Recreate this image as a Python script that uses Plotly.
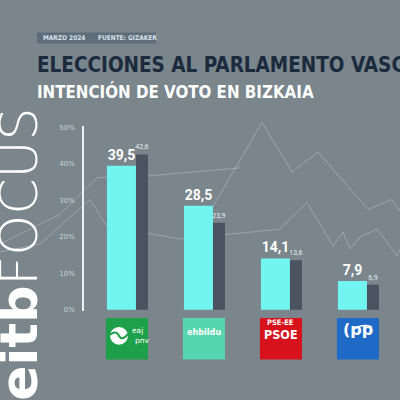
import plotly.graph_objects as go

# ---------------- data ----------------
parties = ["EAJ-PNV", "EH Bildu", "PSE-EE", "PP"]
poll_2024 = [39.5, 28.5, 14.1, 7.9]
prev_result = [42.6, 23.9, 13.6, 6.9]
y_ticks = [0, 10, 20, 30, 40, 50]
y_tick_labels = ["0%", "10%", "20%", "30%", "40%", "50%"]

# decorative background zig-zag lines (figure pixel space)
bg_a_x = [200, 213, 262, 292, 318, 368, 392, 400]
bg_a_y = [240, 207, 122, 172, 152, 210, 200, 212]
bg_b_x = [0, 40, 90, 107, 180, 280, 307, 333, 343, 350, 360, 377, 397, 400]
bg_b_y = [253, 245, 200, 227, 240, 230, 203, 247, 233, 250, 238, 230, 257, 250]
bg_c_x = [0, 60, 97, 150, 240]
bg_c_y = [245, 215, 178, 176, 168]

BG = "#7a858c"
CYAN = "#72f5f0"
DARK = "#4b5262"
NAVY = "#1c2a3e"
COND = "DejaVu Sans Condensed, DejaVu Sans, sans-serif"

fig = go.Figure()

line_style = dict(color="rgba(235,240,245,0.3)", width=1)
for xs, ys in [(bg_a_x, bg_a_y), (bg_b_x, bg_b_y), (bg_c_x, bg_c_y)]:
    fig.add_trace(go.Scatter(x=xs, y=ys, mode="lines", line=line_style,
                             hoverinfo="skip", showlegend=False,
                             xaxis="x", yaxis="y"))

idx = list(range(len(parties)))
fig.add_trace(go.Bar(
    x=idx, y=poll_2024, width=0.377, offset=-0.26,
    marker=dict(color=CYAN, line=dict(width=0)),
    texttemplate="<b>%{y:.1f}</b>", textposition="outside", constraintext="none",
    cliponaxis=False,
    textfont=dict(family="Roboto, sans-serif", size=14, color="white"),
    xaxis="x2", yaxis="y2", showlegend=False, hoverinfo="skip"))
fig.add_trace(go.Bar(
    x=idx, y=prev_result, width=0.156, offset=0.117,
    marker=dict(color=DARK, line=dict(width=0)),
    texttemplate="%{y:.1f}", textposition="outside", constraintext="none",
    cliponaxis=False,
    textfont=dict(family="Roboto, sans-serif", size=7, color="#e8eef2"),
    xaxis="x2", yaxis="y2", showlegend=False, hoverinfo="skip"))

shapes = []
annotations = []

# header box
shapes.append(dict(type="rect", xref="paper", yref="paper",
                   x0=37/400, x1=156/400, y0=(400-42)/400, y1=(400-31)/400,
                   fillcolor="#5f6d7b", line=dict(width=0), layer="below"))
annotations.append(dict(text="<b>MARZO 2024</b>", xref="paper", yref="paper",
                        x=41/400, y=(400-36.5)/400, xanchor="left", yanchor="middle",
                        showarrow=False, font=dict(family=COND, size=6.5, color="#d8e0e6")))
annotations.append(dict(text="<b>FUENTE: GIZAKER</b>", xref="paper", yref="paper",
                        x=96/400, y=(400-36.5)/400, xanchor="left", yanchor="middle",
                        showarrow=False, font=dict(family=COND, size=6.5, color="#d8e0e6")))
annotations.append(dict(text="<b>ELECCIONES AL PARLAMENTO VASCO</b>", xref="paper", yref="paper",
                        x=35/400, y=(400-64)/400, xanchor="left", yanchor="middle",
                        showarrow=False, font=dict(family=COND, size=20.5, color=NAVY)))
annotations.append(dict(text="<b>INTENCIÓN DE VOTO EN BIZKAIA</b>", xref="paper", yref="paper",
                        x=35/400, y=(400-91)/400, xanchor="left", yanchor="middle",
                        showarrow=False, font=dict(family=COND, size=16.8, color="white")))

# eitbFOCUS vertical logo
annotations.append(dict(text="<b>eitb</b><span style='font-weight:200'>FOCUS</span>",
                        xref="paper", yref="paper",
                        x=19/400, y=(400-256)/400, xanchor="center", yanchor="middle",
                        textangle=-90, showarrow=False,
                        font=dict(family="DejaVu Sans, sans-serif", size=52, color="white")))

# party logos
logo_colors = ["#1ea04a", "#55d6ae", "#d8121c", "#1f6ac6"]
ly0, ly1 = (400-362)/400, (400-320)/400
lyc = (ly0 + ly1) / 2
for i, c in zip(idx, logo_colors):
    shapes.append(dict(type="rect", xref="x2", yref="paper",
                       x0=i-0.273, x1=i+0.273, y0=ly0, y1=ly1,
                       fillcolor=c, line=dict(width=0)))

# PNV emblem
shapes.append(dict(type="circle", xref="paper", yref="paper",
                   x0=110/400, x1=128/400, y0=(400-347)/400, y1=(400-329)/400,
                   fillcolor="white", line=dict(width=0)))
shapes.append(dict(type="path", xref="paper", yref="paper",
                   path=f"M {110/400} {(400-337)/400} Q {116/400} {(400-332)/400} {119/400} {(400-338)/400} T {128/400} {(400-336)/400}",
                   line=dict(color="#1ea04a", width=2)))
annotations.append(dict(text="eaj", xref="paper", yref="paper", x=137/400, y=(400-339.5)/400,
                        showarrow=False, font=dict(family="DejaVu Sans", size=7.5, color="white")))
annotations.append(dict(text="pnv", xref="paper", yref="paper", x=133/400, y=(400-349)/400,
                        showarrow=False, font=dict(family="DejaVu Sans", size=7.5, color="white")))
annotations.append(dict(text="<b>ehbildu</b>", xref="x2", yref="paper", x=1, y=lyc,
                        showarrow=False, font=dict(family=COND, size=9, color="white")))
annotations.append(dict(text="<b>PSE-EE</b>", xref="x2", yref="paper", x=2, y=(400-331.5)/400,
                        showarrow=False, font=dict(family=COND, size=7.5, color="white")))
annotations.append(dict(text="<b>PSOE</b>", xref="x2", yref="paper", x=2, y=(400-346.5)/400,
                        showarrow=False, font=dict(family=COND, size=12.5, color="white")))
annotations.append(dict(text="<b>(pp</b>", xref="x2", yref="paper", x=3, y=(400-343)/400,
                        showarrow=False, font=dict(family="DejaVu Sans", size=16, color="white")))
shapes.append(dict(type="path", xref="paper", yref="paper",
                   path=f"M {353/400} {(400-332)/400} Q {362/400} {(400-325)/400} {372/400} {(400-329)/400}",
                   line=dict(color="white", width=1.5)))

fig.update_layout(
    width=400, height=400,
    margin=dict(l=0, r=0, t=0, b=0),
    paper_bgcolor=BG, plot_bgcolor="rgba(0,0,0,0)",
    separators=",.",
    barmode="overlay",
    shapes=shapes, annotations=annotations,
    xaxis=dict(domain=[0, 1], range=[0, 400], visible=False, fixedrange=True),
    yaxis=dict(domain=[0, 1], range=[400, 0], visible=False, fixedrange=True),
    xaxis2=dict(domain=[0.21, 1], range=[-0.558, 3.546], anchor="y2",
                showticklabels=False, showgrid=False, zeroline=False, showline=False),
    yaxis2=dict(domain=[0.218, 0.687], range=[-0.3, 50.5], anchor="x2",
                tickvals=y_ticks, ticktext=y_tick_labels,
                tickfont=dict(family="DejaVu Sans", size=7, color="#cdd5da"),
                showgrid=False, zeroline=False, showline=True,
                linecolor="#eef2f4", linewidth=1.5, ticks="", ticklabelstandoff=6),
)

fig.write_html(
    "out.html",
    config={"displayModeBar": False},
    post_script="document.body.style.margin='0';document.body.style.padding='0';"
                "document.body.style.background='" + BG + "';",
)
